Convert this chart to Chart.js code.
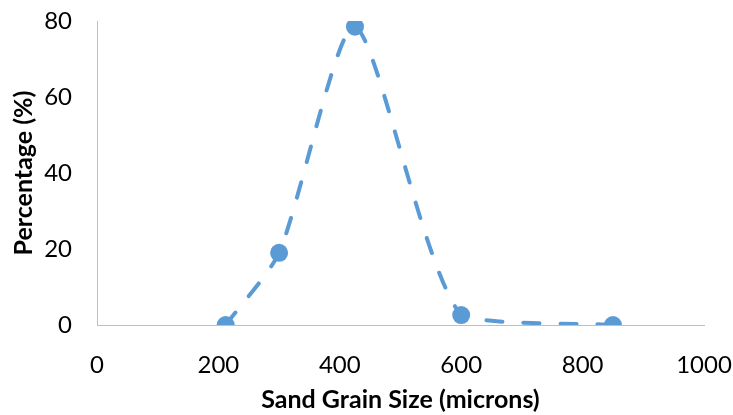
<!DOCTYPE html>
<html>
<head>
<meta charset="utf-8">
<script src="https://cdn.jsdelivr.net/npm/chart.js@4"></script>
<style>
  html, body { margin: 0; padding: 0; background: #fff; }
  #wrap { width: 733px; height: 415px; }
</style>
</head>
<body>
<div id="wrap"><canvas id="sandChart"></canvas></div>
<script>
// grain size distribution
const grainSizes = [212, 300, 425, 600, 850];
const percentages = [0, 19, 78.5, 2.6, 0];
const xTicks = [0, 200, 400, 600, 800, 1000];
const yTicks = [0, 20, 40, 60, 80];

const points = grainSizes.map(function(x, i) { return { x: x, y: percentages[i] }; });

const tickFont = { family: 'Lato', size: 24 };
const titleFont = { family: 'Lato', size: 25, weight: 'bold' };
const axisGray = '#BFBFBF';

new Chart(document.getElementById('sandChart'), {
    type: 'scatter',
    data: {
        datasets: [{
            data: points,
            showLine: true,
            borderColor: '#5B9BD5',
            backgroundColor: '#5B9BD5',
            borderWidth: 4,
            borderDash: [16, 21],
            borderCapStyle: 'round',
            borderJoinStyle: 'round',
            tension: 0.22,
            pointRadius: 9,
            pointHoverRadius: 9,
            pointBorderWidth: 0
        }]
    },
    options: {
        responsive: true,
        maintainAspectRatio: false,
        animation: false,
        layout: { padding: { left: 0, right: 29, top: 21, bottom: 0 } },
        plugins: {
            legend: { display: false },
            tooltip: { enabled: false }
        },
        scales: {
            x: {
                type: 'linear',
                min: xTicks[0],
                max: xTicks[xTicks.length - 1],
                afterBuildTicks: function(scale) { scale.ticks = xTicks.map(function(v) { return { value: v }; }); },
                afterFit: function(scale) {
                    scale.height = 90;
                    scale.paddingLeft = 0;
                    scale.paddingRight = 0;
                },
                grid: { display: true, drawOnChartArea: false, drawTicks: false },
                border: { display: true, color: axisGray, width: 1 },
                ticks: {
                    font: tickFont, color: '#000', padding: 26, maxRotation: 0,
                    callback: function(v) { return String(v); }
                },
                title: {
                    display: true,
                    text: 'Sand Grain Size (microns)',
                    font: titleFont,
                    color: '#000',
                    padding: { top: 0, bottom: 0 }
                }
            },
            y: {
                min: yTicks[0],
                max: yTicks[yTicks.length - 1],
                afterBuildTicks: function(scale) { scale.ticks = yTicks.map(function(v) { return { value: v }; }); },
                afterFit: function(scale) {
                    scale.width = 97;
                    scale.paddingTop = 0;
                    scale.paddingBottom = 0;
                },
                grid: { display: true, drawOnChartArea: false, drawTicks: false },
                border: { display: true, color: axisGray, width: 1 },
                ticks: {
                    font: tickFont, color: '#000', padding: 25,
                    callback: function(v) { return String(v); }
                },
                title: {
                    display: true,
                    text: 'Percentage (%)',
                    font: titleFont,
                    color: '#000',
                    padding: { top: 9, bottom: 0 }
                }
            }
        }
    }
});
</script>
</body>
</html>
